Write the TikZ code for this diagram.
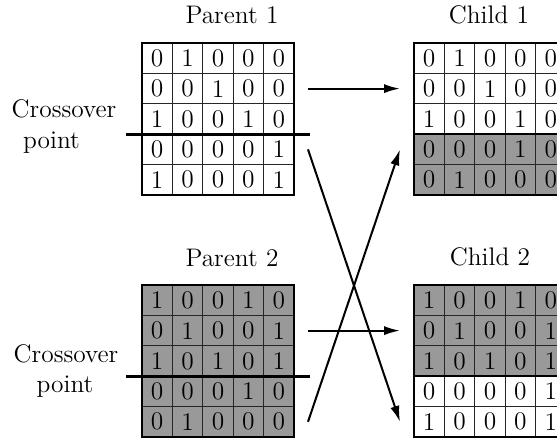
\documentclass[tikz,border=0pt]{standalone}
\usetikzlibrary{arrows.meta}

% one cell of a bit grid; w = plain row, g = shaded row
\tikzset{
  txt/.style={font=\fontsize{12.7}{15.2}\selectfont, inner sep=0pt},
  cell/.style={txt, draw=black!85, line width=0.5pt, minimum size=15.2pt, outer sep=0pt},
  w/.style={fill=white},
  g/.style={fill=black!40},
  frame/.style={draw=black, line width=1pt},
  seam/.style={draw=black, line width=0.8pt},
  cutline/.style={draw=black, line width=1.5pt},
  arr/.style={draw=black, line width=1pt, -{Latex[length=8pt,width=4.6pt]}}
}

% \bitgrid{name}{left}{top}{shade/{bits},...}
\newcommand\bitgrid[4]{%
  \foreach \shade/\bits [count=\r] in {#4} {
    \foreach \d [count=\c] in \bits {
      \node[cell, \shade] (#1-\r-\c) at ({#2+(\c-0.5)*30.4},{#3+(\r-0.5)*30.4}) {\d};
    }
  }
  \draw[frame] (#1-1-1.north west) rectangle (#1-5-5.south east);
}

\begin{document}
\begin{tikzpicture}[x=0.5pt, y=-0.5pt]
  \useasboundingbox (0,0) rectangle (557,441);
  \clip (0,0) rectangle (557,441);

  % parents
  \bitgrid{p1}{142}{43}{w/{0,1,0,0,0}, w/{0,0,1,0,0}, w/{1,0,0,1,0}, w/{0,0,0,0,1}, w/{1,0,0,0,1}}
  \bitgrid{p2}{142}{285}{g/{1,0,0,1,0}, g/{0,1,0,0,1}, g/{1,0,1,0,1}, g/{0,0,0,1,0}, g/{0,1,0,0,0}}

  % children
  \bitgrid{c1}{414}{43}{w/{0,1,0,0,0}, w/{0,0,1,0,0}, w/{1,0,0,1,0}, g/{0,0,0,1,0}, g/{0,1,0,0,0}}
  \bitgrid{c2}{414}{285}{g/{1,0,0,1,0}, g/{0,1,0,0,1}, g/{1,0,1,0,1}, w/{0,0,0,0,1}, w/{1,0,0,0,1}}
  \draw[seam] (c1-3-1.south west) -- (c1-3-5.south east);
  \draw[seam] (c2-3-1.south west) -- (c2-3-5.south east);

  % titles
  \node[txt, anchor=base] (t-p1) at (232,23) {Parent 1};
  \node[txt, anchor=base] (t-c1) at (489,23) {Child 1};
  \node[txt, anchor=base] (t-p2) at (232,266) {Parent 2};
  \node[txt, anchor=base] (t-c2) at (490,265) {Child 2};

  % crossover points
  \draw[cutline] ([xshift=-8pt]p1-3-1.south west) -- ([xshift=8pt]p1-3-5.south east);
  \draw[cutline] ([xshift=-8pt]p2-3-1.south west) -- ([xshift=8pt]p2-3-5.south east);
  \node[txt, anchor=base] (x1a) at (64,117) {Crossover};
  \node[txt, anchor=base] (x1b) at (51.5,148) {point};
  \node[txt, anchor=base] (x2a) at (66,362) {Crossover};
  \node[txt, anchor=base] (x2b) at (65,392) {point};

  % heads pass straight across, tails swap
  \draw[arr] ([xshift=7pt]p1-2-5.east) -- ([xshift=-7pt]c1-2-1.west);
  \draw[arr] ([xshift=7pt]p2-2-5.east) -- ([xshift=-7pt]c2-2-1.west);
  \draw[arr] ([xshift=7pt]p1-4-5.east) -- ([xshift=-7pt]c2-5-1.west);
  \draw[arr] ([xshift=7pt]p2-5-5.east) -- ([xshift=-7pt]c1-4-1.west);
\end{tikzpicture}
\end{document}
